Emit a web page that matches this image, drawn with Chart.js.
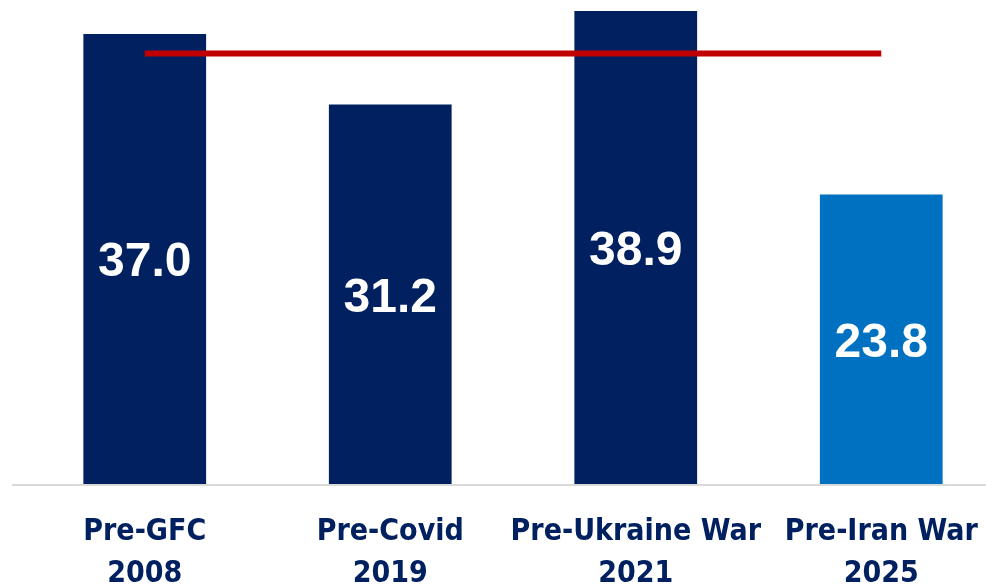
<!DOCTYPE html>
<html>
<head>
<meta charset="utf-8">
<script src="https://cdn.jsdelivr.net/npm/chart.js@4"></script>
<style>
    html, body { margin: 0; padding: 0; background: #fff; overflow: hidden; }
    #wrap { position: absolute; left: 0; top: 0; width: 1012px; height: 586px; }
</style>
</head>
<body>
<div id="wrap"><canvas id="chartBars"></canvas></div>
<script>
const categories = [["Pre-GFC", "2008"], ["Pre-Covid", "2019"], ["Pre-Ukraine War", "2021"], ["Pre-Iran War", "2025"]];
const values = [37.0, 31.2, 38.9, 23.8];
const averageLine = [35.4, 35.4, 35.4, 35.4];
const barColors = ["#002060", "#002060", "#002060", "#0070C0"];

const labelFont = "'Liberation Sans Narrow', 'DejaVu Sans Condensed', 'Liberation Sans', sans-serif";

// white value labels in the middle of each bar
const barLabels = {
    id: "barLabels",
    afterDatasetsDraw(chart) {
        const ctx = chart.ctx;
        const meta = chart.getDatasetMeta(1);
        ctx.save();
        ctx.fillStyle = "#ffffff";
        ctx.font = "bold 48px 'Liberation Sans', sans-serif";
        ctx.textAlign = "center";
        ctx.textBaseline = "middle";
        meta.data.forEach((bar, i) => {
            ctx.fillText(values[i].toFixed(1), bar.x, (bar.y + bar.base) / 2 + 4);
        });
        ctx.restore();
    }
};

// the gray baseline in the original runs a little further left than the bars' band
const baseLine = {
    id: "baseLine",
    beforeDatasetsDraw(chart) {
        const ctx = chart.ctx;
        const y = chart.scales.y.getPixelForValue(0);
        ctx.save();
        ctx.strokeStyle = "#d9d9d9";
        ctx.lineWidth = 2;
        ctx.beginPath();
        ctx.moveTo(12, y + 1);
        ctx.lineTo(chart.width, y + 1);
        ctx.stroke();
        ctx.restore();
    }
};

new Chart(document.getElementById("chartBars"), {
    data: {
        labels: categories,
        datasets: [{
            type: "line",
            data: averageLine,
            borderColor: "#C00000",
            borderWidth: 6,
            pointRadius: 0,
            fill: false,
            order: 0
        }, {
            type: "bar",
            data: values,
            backgroundColor: barColors,
            barPercentage: 0.5,
            categoryPercentage: 1,
            order: 1
        }]
    },
    options: {
        responsive: true,
        maintainAspectRatio: false,
        animation: false,
        layout: { padding: { left: 22, right: 8, top: 0, bottom: 0 } },
        plugins: {
            legend: { display: false },
            tooltip: { enabled: false }
        },
        scales: {
            x: {
                grid: { display: false },
                border: { display: false },
                ticks: {
                    color: "#002060",
                    padding: 19,
                    autoSkip: false,
                    font: { family: labelFont, size: 30, weight: "bold", lineHeight: 1.4 },
                    maxRotation: 0
                },
                afterFit: scale => { scale.height = 102; }
            },
            y: {
                display: false,
                min: 0,
                max: 39.8
            }
        }
    },
    plugins: [baseLine, barLabels]
});
</script>
</body>
</html>
